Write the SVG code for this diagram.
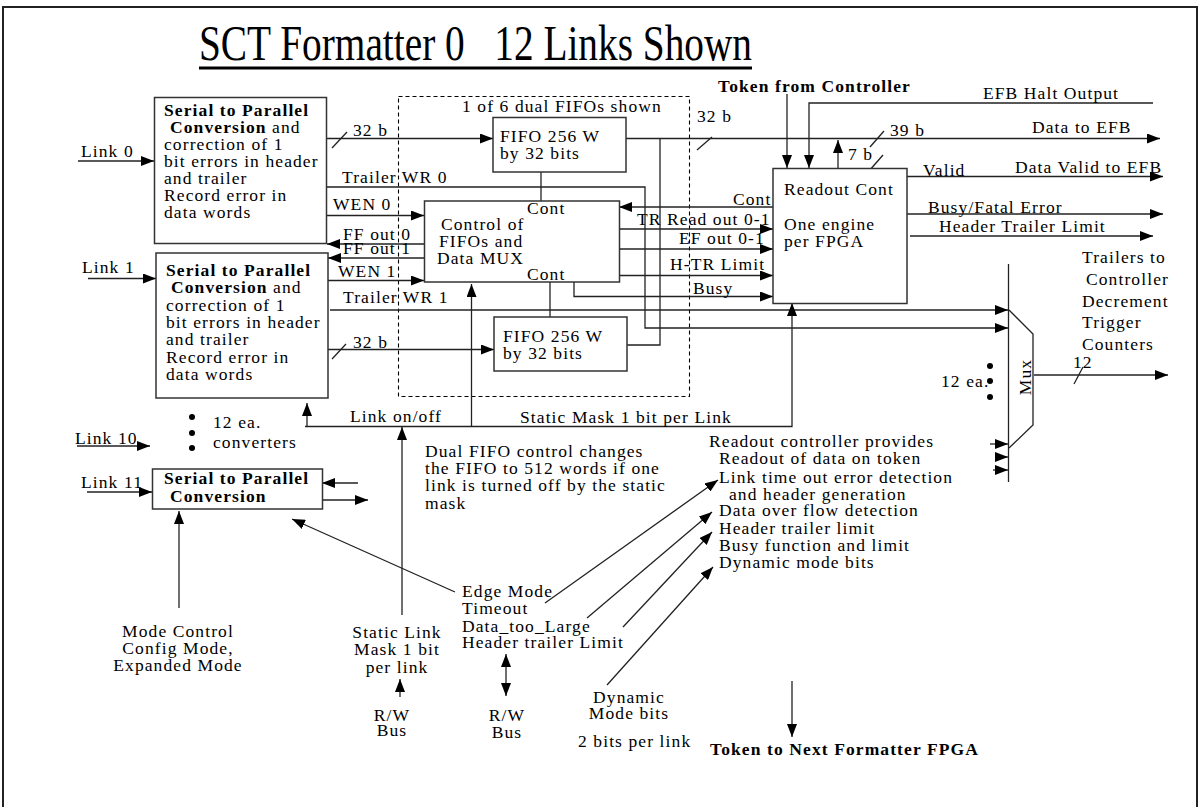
<svg xmlns="http://www.w3.org/2000/svg" width="1200" height="807" viewBox="0 0 1200 807">
<defs>
<marker id="ah" markerUnits="userSpaceOnUse" markerWidth="13" markerHeight="10" refX="13" refY="5" orient="auto-start-reverse" viewBox="0 0 13 10">
<path d="M0,0 L13,5 L0,10 z" fill="#000"/>
</marker>
<style>
.t{font-family:"Liberation Serif","Times New Roman",serif;font-size:17.5px;letter-spacing:1.1px;fill:#000}
.b{font-weight:bold}
.m{text-anchor:middle}
.ln{stroke:#222;stroke-width:1.3;fill:none}
.ar{stroke:#222;stroke-width:1.3;fill:none;marker-end:url(#ah)}
.bx{fill:#fff;stroke:#333;stroke-width:1.5}
.ds{fill:none;stroke:#000;stroke-width:1.1;stroke-dasharray:4 3}
</style>
</defs>
<rect width="1200" height="807" fill="#fff"/>
<path d="M3,812 V7 H1197 V812" fill="none" stroke="#222" stroke-width="2"/>

<g id="title">
<text x="199" y="60" style="font-family:'Liberation Serif','Times New Roman',serif;font-size:50px;white-space:pre" textLength="553" lengthAdjust="spacingAndGlyphs">SCT Formatter 0   12 Links Shown</text>
<line x1="199" y1="68" x2="752" y2="68" stroke="#000" stroke-width="3"/>
</g>

<g id="dual-fifo">
<rect class="ds" x="398.5" y="96.5" width="291" height="300"/>
<text class="t" x="462" y="111.5">1 of 6 dual FIFOs shown</text>
</g>

<g id="connectors">
<line class="ar" x1="78" y1="161" x2="154" y2="161"/>
<line class="ar" x1="88" y1="278.5" x2="156" y2="278.5"/>
<line class="ar" x1="77" y1="446" x2="150" y2="446"/>
<line class="ar" x1="87" y1="492" x2="152" y2="492"/>
<line class="ar" x1="327" y1="138.5" x2="493" y2="138.5"/>
<line class="ln" x1="332" y1="148" x2="347" y2="132"/>
<path class="ar" d="M327,187 H645 V328 H1008"/>
<line class="ar" x1="330" y1="310" x2="1008" y2="310"/>
<line class="ar" x1="327" y1="215.5" x2="424" y2="215.5"/>
<line class="ar" x1="424" y1="244" x2="327" y2="244"/>
<line class="ar" x1="424" y1="258" x2="328" y2="258"/>
<line class="ar" x1="328" y1="280.5" x2="424" y2="280.5"/>
<line class="ar" x1="328" y1="349.5" x2="494" y2="349.5"/>
<line class="ln" x1="332" y1="359" x2="346" y2="344"/>
<line class="ln" x1="541" y1="172" x2="541" y2="201"/>
<line class="ln" x1="550" y1="282" x2="550" y2="317"/>
<line class="ar" x1="626" y1="138.5" x2="1160" y2="138.5"/>
<line class="ln" x1="697" y1="150" x2="712" y2="137"/>
<line class="ln" x1="870" y1="147" x2="884" y2="131"/>
<path class="ln" d="M627,345 H660 V138.5"/>
<line class="ar" x1="773" y1="207" x2="619" y2="207"/>
<line class="ar" x1="619" y1="229" x2="773" y2="229"/>
<line class="ar" x1="619" y1="249" x2="773" y2="249"/>
<line class="ar" x1="619" y1="275.5" x2="773" y2="275.5"/>
<path class="ar" d="M574,282 V296.5 H773"/>
<path class="ar" d="M305,426.5 H792 V303"/>
<line class="ar" x1="307" y1="426.5" x2="307" y2="403"/>
<line class="ar" x1="471.5" y1="426.5" x2="471.5" y2="284"/>
<line class="ar" x1="402" y1="615" x2="402" y2="427"/>
<line class="ar" x1="358" y1="483" x2="322" y2="483"/>
<line class="ar" x1="323" y1="500" x2="368" y2="500"/>
<line class="ar" x1="179" y1="608" x2="179" y2="511"/>
<line class="ar" x1="400" y1="697" x2="400" y2="679"/>
<line class="ar" x1="455" y1="592" x2="292" y2="519"/>
<line class="ar" x1="545" y1="603" x2="718" y2="480"/>
<line class="ar" x1="587" y1="618" x2="712" y2="512"/>
<line class="ar" x1="623" y1="627" x2="712" y2="532"/>
<line class="ar" x1="607" y1="685" x2="713" y2="567"/>
<line class="ar" x1="506" y1="675" x2="506" y2="696"/>
<line class="ar" x1="506" y1="675" x2="506" y2="654"/>
<line class="ar" x1="792" y1="681" x2="792" y2="737"/>
<line class="ar" x1="787" y1="94" x2="787" y2="168"/>
<path class="ar" d="M1153,103 H809 V168"/>
<line class="ar" x1="838" y1="168" x2="838" y2="140"/>
<line class="ln" x1="869" y1="171" x2="883" y2="155"/>
<line class="ar" x1="907" y1="176.5" x2="1163" y2="176.5"/>
<line class="ar" x1="907" y1="214" x2="1163" y2="214"/>
<line class="ar" x1="910" y1="236" x2="1153" y2="236"/>
<line class="ar" x1="1034" y1="375" x2="1168" y2="375"/>
<line class="ln" x1="1074" y1="384" x2="1083" y2="367"/>
<line class="ar" x1="990" y1="444" x2="1008" y2="444"/>
<line class="ar" x1="995" y1="457" x2="1008" y2="457"/>
<line class="ar" x1="993" y1="470" x2="1008" y2="470"/>
</g>

<g id="link-labels">
<text class="t" x="81" y="157">Link 0</text>
<text class="t" x="82" y="273">Link 1</text>
<text class="t" x="75" y="444">Link 10</text>
<text class="t" x="81" y="488">Link 11</text>
<text class="t" x="353" y="136">32 b</text>
<text class="t" x="342" y="183">Trailer WR 0</text>
<text class="t" x="333" y="210">WEN 0</text>
<text class="t" x="343" y="240">FF out 0</text>
<text class="t" x="343" y="254">FF out 1</text>
<text class="t" x="338" y="276.5">WEN 1</text>
<text class="t" x="343" y="303">Trailer WR 1</text>
<text class="t" x="353" y="348">32 b</text>
<text class="t" x="697" y="121.5">32 b</text>
<text class="t" x="890" y="135.5">39 b</text>
<text class="t" x="848" y="160">7 b</text>
<text class="t" x="733" y="205">Cont</text>
<text class="t" x="637" y="225">TR Read out 0-1</text>
<text class="t" x="679" y="244">EF out 0-1</text>
<text class="t" x="670" y="270">H-TR Limit</text>
<text class="t" x="693" y="294">Busy</text>
<text class="t" x="350" y="421.5">Link on/off</text>
<text class="t" x="520" y="422.5">Static Mask 1 bit per Link</text>
<text class="t b" x="718" y="91.5">Token from Controller</text>
<text class="t" x="983" y="99">EFB Halt Output</text>
<text class="t" x="1032" y="132.5">Data to EFB</text>
<text class="t" x="923" y="175.5">Valid</text>
<text class="t" x="1015" y="172.5">Data Valid to EFB</text>
<text class="t" x="928" y="212.5">Busy/Fatal Error</text>
<text class="t" x="939" y="232">Header Trailer Limit</text>
<text class="t" x="1073" y="368">12</text>
</g>

<g id="s2p-0">
<rect class="bx" x="154.5" y="97.5" width="172" height="146"/>
<text class="t b" x="164" y="116">Serial to Parallel</text>
<text class="t" x="170" y="133"><tspan class="b">Conversion</tspan> and</text>
<text class="t" x="164" y="150">correction of 1</text>
<text class="t" x="164" y="167">bit errors in header</text>
<text class="t" x="164" y="184">and trailer</text>
<text class="t" x="164" y="201">Record error in</text>
<text class="t" x="164" y="218">data words</text>
</g>

<g id="s2p-1">
<rect class="bx" x="156" y="253" width="172" height="145"/>
<text class="t b" x="166" y="276">Serial to Parallel</text>
<text class="t" x="171" y="293"><tspan class="b">Conversion</tspan> and</text>
<text class="t" x="166" y="310.5">correction of 1</text>
<text class="t" x="166" y="328">bit errors in header</text>
<text class="t" x="166" y="345">and trailer</text>
<text class="t" x="166" y="362.5">Record error in</text>
<text class="t" x="166" y="380">data words</text>
</g>

<g id="s2p-11">
<rect class="bx" x="152.5" y="469" width="170" height="40"/>
<text class="t b" x="164" y="484">Serial to Parallel</text>
<text class="t b" x="170" y="502">Conversion</text>
</g>

<g id="converters-note">
<circle cx="192" cy="417" r="3"/>
<circle cx="192" cy="433" r="3"/>
<circle cx="192" cy="448" r="3"/>
<text class="t" x="213" y="428">12 ea.</text>
<text class="t" x="213" y="448">converters</text>
</g>

<g id="fifo-0">
<rect class="bx" x="493" y="117.5" width="133" height="54.5"/>
<text class="t" x="500" y="141.5">FIFO 256 W</text>
<text class="t" x="500" y="158.5">by 32 bits</text>
</g>

<g id="fifo-control">
<rect class="bx" x="424.5" y="201" width="195" height="81"/>
<text class="t" x="527" y="214">Cont</text>
<text class="t" x="441" y="229.5">Control of</text>
<text class="t" x="439" y="247">FIFOs and</text>
<text class="t" x="437" y="264">Data MUX</text>
<text class="t" x="527" y="280">Cont</text>
</g>

<g id="fifo-1">
<rect class="bx" x="494" y="317" width="133" height="54"/>
<text class="t" x="503" y="341.5">FIFO 256 W</text>
<text class="t" x="503" y="358.5">by 32 bits</text>
</g>

<g id="readout">
<rect class="bx" x="773" y="168.5" width="134" height="135"/>
<text class="t" x="784" y="195">Readout Cont</text>
<text class="t" x="784" y="230">One engine</text>
<text class="t" x="784" y="247">per FPGA</text>
</g>

<g id="trailers-note">
<text class="t" x="1082" y="263">Trailers to</text>
<text class="t" x="1086" y="285">Controller</text>
<text class="t" x="1082" y="306.5">Decrement</text>
<text class="t" x="1082" y="328">Trigger</text>
<text class="t" x="1082" y="350">Counters</text>
</g>

<g id="mux">
<line class="ln" x1="1008.5" y1="264" x2="1008.5" y2="482"/>
<path class="ln" d="M1009,310 L1033,334 V425 L1009,448"/>
<text class="t m" transform="translate(1031,377) rotate(-90)">Mux</text>
<circle cx="990" cy="366" r="3"/>
<circle cx="990" cy="381" r="3"/>
<circle cx="990" cy="397" r="3"/>
<text class="t" x="941" y="386.5">12 ea.</text>
</g>

<g id="dual-fifo-note">
<text class="t" x="425" y="456.5">Dual FIFO control  changes</text>
<text class="t" x="425" y="474">the FIFO to 512 words if one</text>
<text class="t" x="425" y="491">link is turned off by the static</text>
<text class="t" x="425" y="508.5">mask</text>
</g>

<g id="readout-features">
<text class="t" x="709" y="446.5">Readout controller provides</text>
<text class="t" x="719" y="464">Readout of data on token</text>
<text class="t" x="719" y="482.5">Link time out error detection</text>
<text class="t" x="729" y="499.5">and header generation</text>
<text class="t" x="719" y="516">Data over flow detection</text>
<text class="t" x="719" y="533.5">Header trailer limit</text>
<text class="t" x="719" y="551">Busy function and limit</text>
<text class="t" x="719" y="567.5">Dynamic mode bits</text>
</g>

<g id="mode-control">
<text class="t m" x="178" y="636.5">Mode Control</text>
<text class="t m" x="178" y="653.5">Config Mode,</text>
<text class="t m" x="178" y="670.5">Expanded Mode</text>
</g>

<g id="static-link-mask">
<text class="t m" x="397" y="638">Static Link</text>
<text class="t m" x="397" y="655">Mask 1 bit</text>
<text class="t m" x="397" y="672.5">per link</text>
<text class="t m" x="392" y="720.5">R/W</text>
<text class="t m" x="392" y="736">Bus</text>
</g>

<g id="edge-mode">
<text class="t" x="462" y="596.5">Edge Mode</text>
<text class="t" x="462" y="614">Timeout</text>
<text class="t" x="462" y="631.5">Data_too_Large</text>
<text class="t" x="462" y="648">Header trailer Limit</text>
<text class="t m" x="507" y="720.5">R/W</text>
<text class="t m" x="507" y="738">Bus</text>
</g>

<g id="dynamic-mode">
<text class="t m" x="629" y="702.5">Dynamic</text>
<text class="t m" x="629" y="718.5">Mode bits</text>
<text class="t" x="578" y="746.5">2 bits per link</text>
</g>

<g id="token-next">
<text class="t b" x="710" y="755">Token to Next Formatter FPGA</text>
</g>
</svg>
